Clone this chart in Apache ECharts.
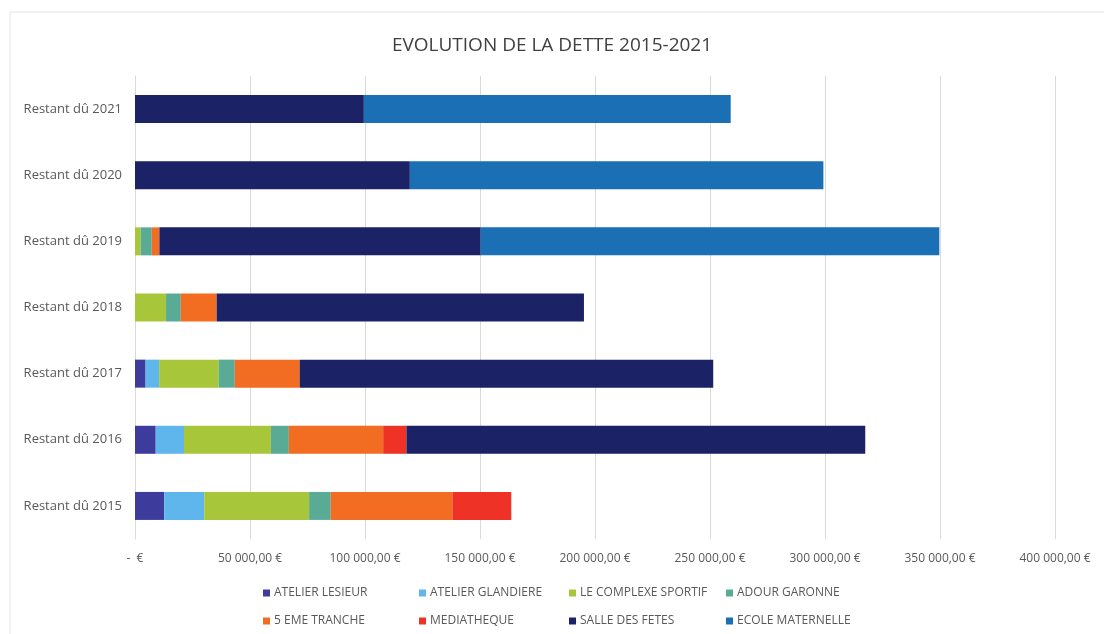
<!DOCTYPE html>
<html>
<head>
<meta charset="utf-8">
<script src="https://cdn.jsdelivr.net/npm/echarts@6/dist/echarts.min.js"></script>
<style>
    html, body { margin: 0; padding: 0; background: #fff; }
    #chart { width: 1104px; height: 634px; }
</style>
</head>
<body>
<div id="chart"></div>
<script>
// categories bottom -> top
const years = ['Restant dû 2015', 'Restant dû 2016', 'Restant dû 2017', 'Restant dû 2018', 'Restant dû 2019', 'Restant dû 2020', 'Restant dû 2021']

const atelierLesieur = [12700, 9000, 4600, 0, 0, 0, 0]
const atelierGlandiere = [17400, 12300, 5900, 0, 0, 0, 0]
const complexeSportif = [45600, 37800, 25900, 13500, 2500, 0, 0]
const adourGaronne = [9400, 7800, 7000, 6400, 4800, 0, 0]
const cinqEmeTranche = [52900, 41000, 28200, 15600, 3300, 0, 0]
const mediatheque = [25600, 10100, 0, 0, 0, 0, 0]
const salleDesFetes = [0, 199500, 179800, 159700, 139700, 119500, 99500]
const ecoleMaternelle = [0, 0, 0, 0, 199400, 179800, 159500]

const xTicks = [0, 50000, 100000, 150000, 200000, 250000, 300000, 350000, 400000]

const seriesDefs = [
    { name: 'ATELIER LESIEUR', data: atelierLesieur, color: '#3d3b9b' },
    { name: 'ATELIER GLANDIERE', data: atelierGlandiere, color: '#5fb6ec' },
    { name: 'LE COMPLEXE SPORTIF', data: complexeSportif, color: '#a8c63a' },
    { name: 'ADOUR GARONNE', data: adourGaronne, color: '#5aab95' },
    { name: '5 EME TRANCHE', data: cinqEmeTranche, color: '#f26c22' },
    { name: 'MEDIATHEQUE', data: mediatheque, color: '#ee3326' },
    { name: 'SALLE DES FETES', data: salleDesFetes, color: '#1b2265' },
    { name: 'ECOLE MATERNELLE', data: ecoleMaternelle, color: '#1b6fb4' }
]

const fontFamily = '"Open Sans", "Liberation Sans", sans-serif'

// legend laid out as a 4 x 2 grid, like the original
const legendCols = [263, 419, 569, 726]
const legendRows = [587, 615]

function euro(v) {
    if (v === 0) return '-  €'
    const s = String(Math.round(v)).replace(/\B(?=(\d{3})+(?!\d))/g, ' ')
    return s + ',00 €'
}

const chart = echarts.init(document.getElementById('chart'), null, { renderer: 'canvas' })

chart.setOption({
    animation: false,
    backgroundColor: '#fff',
    title: {
        text: 'EVOLUTION DE LA DETTE 2015-2021',
        left: 'center',
        top: 31,
        textStyle: { fontFamily, fontSize: 19, fontWeight: 'normal', color: '#404040' }
    },
    graphic: [{
        type: 'rect',
        shape: { x: 10, y: 12, width: 1100, height: 640 },
        style: { fill: 'none', stroke: '#e3e3e3', lineWidth: 1 },
        silent: true
    }],
    grid: { left: 135, right: 49, top: 76, bottom: 95, containLabel: false },
    legend: seriesDefs.map((s, i) => ({
        left: legendCols[i % 4],
        top: legendRows[Math.floor(i / 4)],
        padding: 0,
        itemWidth: 7,
        itemHeight: 7,
        itemGap: 4,
        icon: 'rect',
        textStyle: { fontFamily, fontSize: 12, color: '#595959', padding: [0, 0, 0, -1] },
        data: [s.name]
    })),
    xAxis: {
        type: 'value',
        min: 0,
        max: 400000,
        interval: 50000,
        axisLine: { show: false },
        axisTick: { show: false },
        splitLine: { lineStyle: { color: '#d9d9d9', width: 1 } },
        axisLabel: {
            fontFamily,
            fontSize: 12,
            color: '#595959',
            margin: 14,
            formatter: v => xTicks.indexOf(v) >= 0 ? euro(v) : ''
        }
    },
    yAxis: {
        type: 'category',
        data: years,
        axisLine: { show: true, lineStyle: { color: '#d9d9d9' } },
        axisTick: { show: false },
        axisLabel: { fontFamily, fontSize: 13, color: '#595959', margin: 13 }
    },
    series: seriesDefs.map(s => ({
        name: s.name,
        type: 'bar',
        stack: 'dette',
        barWidth: 28,
        itemStyle: { color: s.color },
        data: s.data
    }))
})
</script>
</body>
</html>
